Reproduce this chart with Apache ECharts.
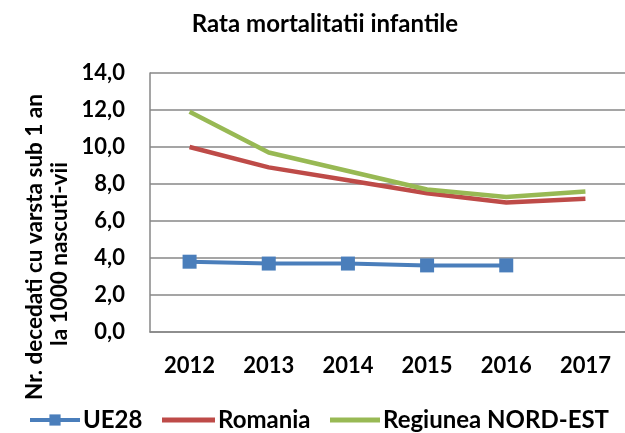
<!DOCTYPE html>
<html>
<head>
<meta charset="utf-8">
<script src="https://cdn.jsdelivr.net/npm/echarts@6/dist/echarts.min.js"></script>
<style>
  html, body { margin: 0; padding: 0; background: #fff; }
  #chart { width: 625px; height: 433px; }
</style>
</head>
<body>
<div id="chart"></div>
<script>
const years = ["2012", "2013", "2014", "2015", "2016", "2017"];
const ue28 = [3.8, 3.7, 3.7, 3.6, 3.6, null];
const romania = [10.0, 8.9, 8.2, 7.5, 7.0, 7.2];
const nord_est = [11.9, 9.7, 8.7, 7.7, 7.3, 7.6];

const font = "Lato";
const grid_color = "#878787";
const bold_text = { fontFamily: font, fontWeight: "bold", color: "#000" };

function createEChart(element) {
  return echarts.init(element, null, { renderer: 'canvas' });
}

// one legend per item, so each can sit where it sits in the picture
function legendAt(left, name, extra) {
  return Object.assign({
    left: left, top: 403, padding: 0, itemWidth: 50, itemHeight: 5, itemGap: 6,
    textStyle: Object.assign({ fontSize: 24, lineHeight: 34, padding: [0, 0, 0, -2] }, bold_text),
    data: [name]
  }, extra || {});
}

// rotated axis name lines (bottom-to-top)
function sideText(x, y, text) {
  return {
    type: "text", x: x, y: y, rotation: Math.PI / 2,
    style: {
      text: text, align: "center", verticalAlign: "middle",
      fontFamily: font, fontWeight: "bold", fontSize: 22.5, fill: "#000"
    }
  };
}

function mortalityPlot() {
  return {
    animation: false,
    title: {
      text: "Rata mortalitatii infantile", left: 320, top: 7, textAlign: "center",
      textStyle: Object.assign({ fontSize: 24 }, bold_text)
    },
    grid: { left: 150, top: 73, right: -9, bottom: 101 },
    xAxis: {
      type: "category", data: years,
      axisLine: { lineStyle: { color: grid_color, width: 1.5 } },
      axisTick: { show: false },
      axisLabel: Object.assign({ fontSize: 22, margin: 23 }, bold_text)
    },
    yAxis: {
      type: "value", min: 0, max: 14, interval: 2,
      axisLine: { show: true, lineStyle: { color: grid_color, width: 1.5 } },
      axisTick: { show: false },
      splitLine: { lineStyle: { color: grid_color, width: 1.5 } },
      axisLabel: Object.assign({
        fontSize: 22, margin: 25,
        formatter: (v) => v.toFixed(1).replace(".", ",")
      }, bold_text)
    },
    legend: [
      legendAt(28, { name: "UE28", lineStyle: { width: 4 } }, { itemHeight: 14 }),
      legendAt(162, { name: "Romania", icon: "rect" }, { itemWidth: 53 }),
      legendAt(330, { name: "Regiunea NORD-EST", icon: "rect" })
    ],
    graphic: [
      sideText(35, 247, "Nr. decedati cu varsta sub 1 an"),
      sideText(60, 254, "la 1000 nascuti-vii")
    ],
    series: [
      {
        name: "UE28", type: "line", data: ue28,
        symbol: "rect", symbolSize: 14,
        itemStyle: { color: "#4a7ebb" },
        lineStyle: { color: "#4a7ebb", width: 4 }
      },
      {
        name: "Romania", type: "line", data: romania, symbol: "none",
        itemStyle: { color: "#be4b48" },
        lineStyle: { color: "#be4b48", width: 4.5 }
      },
      {
        name: "Regiunea NORD-EST", type: "line", data: nord_est, symbol: "none",
        itemStyle: { color: "#98b954" },
        lineStyle: { color: "#98b954", width: 4.5 }
      }
    ]
  };
}

const chart = createEChart(document.getElementById("chart"));
chart.setOption(mortalityPlot());
</script>
</body>
</html>
